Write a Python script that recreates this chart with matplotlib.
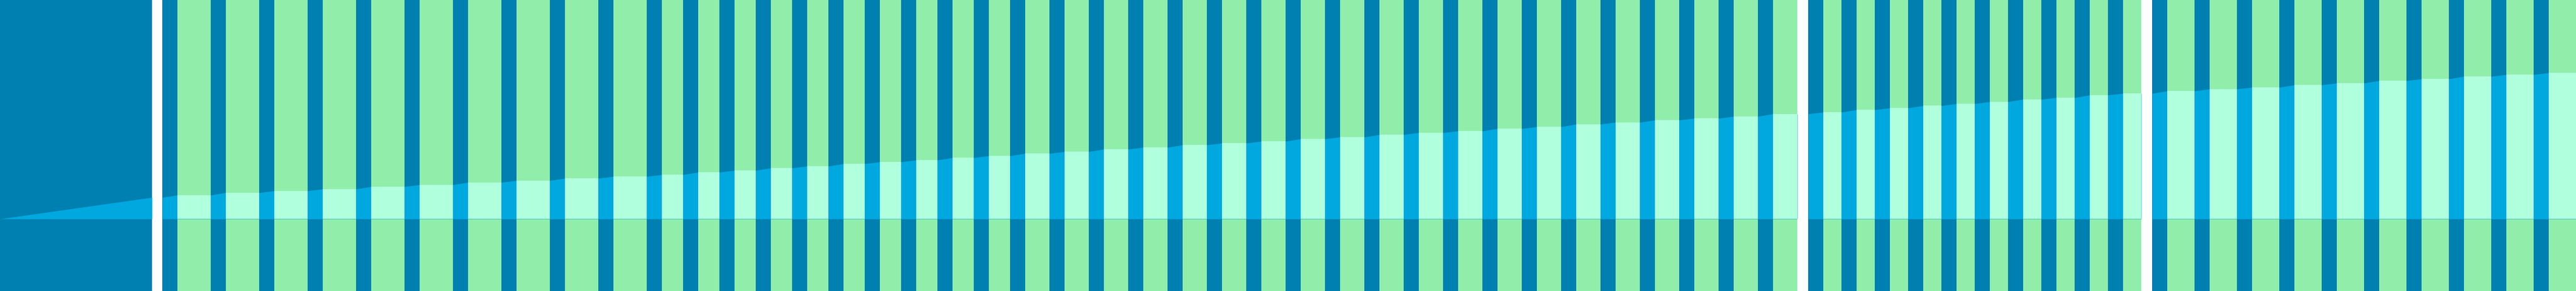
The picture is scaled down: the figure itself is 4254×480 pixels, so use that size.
import numpy as np
import matplotlib.pyplot as plt

# ramp level (above the band floor) reached at each green stripe
lead_level = 35.5
levels_a = [39.3, 43.3, 46.3, 49.3, 53.3, 56.3, 60.3, 63.3, 67.0, 70.0,
            73.0, 77.0, 80.0, 84.0, 87.0, 91.0, 94.0, 97.0, 101.0, 104.0,
            108.0, 111.0, 115.0, 118.0, 122.0, 125.0, 128.0, 132.0, 135.0, 139.0,
            142.3, 145.0, 149.0, 152.0, 156.3, 159.3, 163.0, 166.0, 169.0, 173.3]
levels_b = [176.0, 180.0, 183.0, 186.7, 190.0, 193.3, 197.3, 200.0, 204.3, 207.0]
levels_c = [211.0, 214.3, 217.0, 221.0, 224.0, 228.0, 231.0, 235.0, 238.0, 241.0]

DARK = '#0080b0'
GREEN = '#90eeaa'
LIGHT_BLUE = '#00a8e0'
MINT = '#b0ffdd'

W, H = 4254, 480
FLOOR = 119      # bottom of the light band
STRIPE = 25      # width of a dark stripe

# panel extents (px) and stripe pitch inside each panel
panels = [
    (0, 251, None),
    (268, 2968, [80] * 10 + [60] * 10 + [65] * 20),
    (2986, 3537, [55] * 10),
    (3554, 4254, [70] * 10),
]
panel_levels = [None, levels_a, levels_b, levels_c]

fig = plt.figure(figsize=(W / 100, H / 100), dpi=100)
fig.patch.set_facecolor('white')

prev = 0.0
for (x0, x1, pitch), lv in zip(panels, panel_levels):
    ax = fig.add_axes([x0 / W, 0, (x1 - x0) / W, 1])
    ax.set_xlim(0, x1 - x0)
    ax.set_ylim(0, H)
    ax.axis('off')

    if pitch is None:
        ax.bar(0, H, width=x1 - x0, align='edge', color=DARK, linewidth=0)
        ax.fill_between([0, x1 - x0], FLOOR, [FLOOR + prev, FLOOR + lead_level],
                        color=LIGHT_BLUE, linewidth=0)
        prev = lead_level
        continue

    lefts = np.concatenate([[0], np.cumsum(pitch)[:-1]])
    pitch = np.array(pitch)
    green_l = lefts + STRIPE
    green_w = pitch - STRIPE

    ax.bar(lefts, H, width=STRIPE, align='edge', color=DARK, linewidth=0)
    ax.bar(green_l, H, width=green_w, align='edge', color=GREEN, linewidth=0)

    xs, ys = [0.0], [prev]
    for gl, gw, v in zip(green_l, green_w, lv):
        xs += [gl, gl + gw]
        ys += [v, v]
    ax.fill_between(xs, FLOOR, FLOOR + np.array(ys), color=LIGHT_BLUE, linewidth=0)
    ax.bar(green_l, lv, width=green_w, bottom=FLOOR, align='edge', color=MINT, linewidth=0)
    prev = lv[-1]

plt.savefig('out.png', dpi=100, facecolor='white')
